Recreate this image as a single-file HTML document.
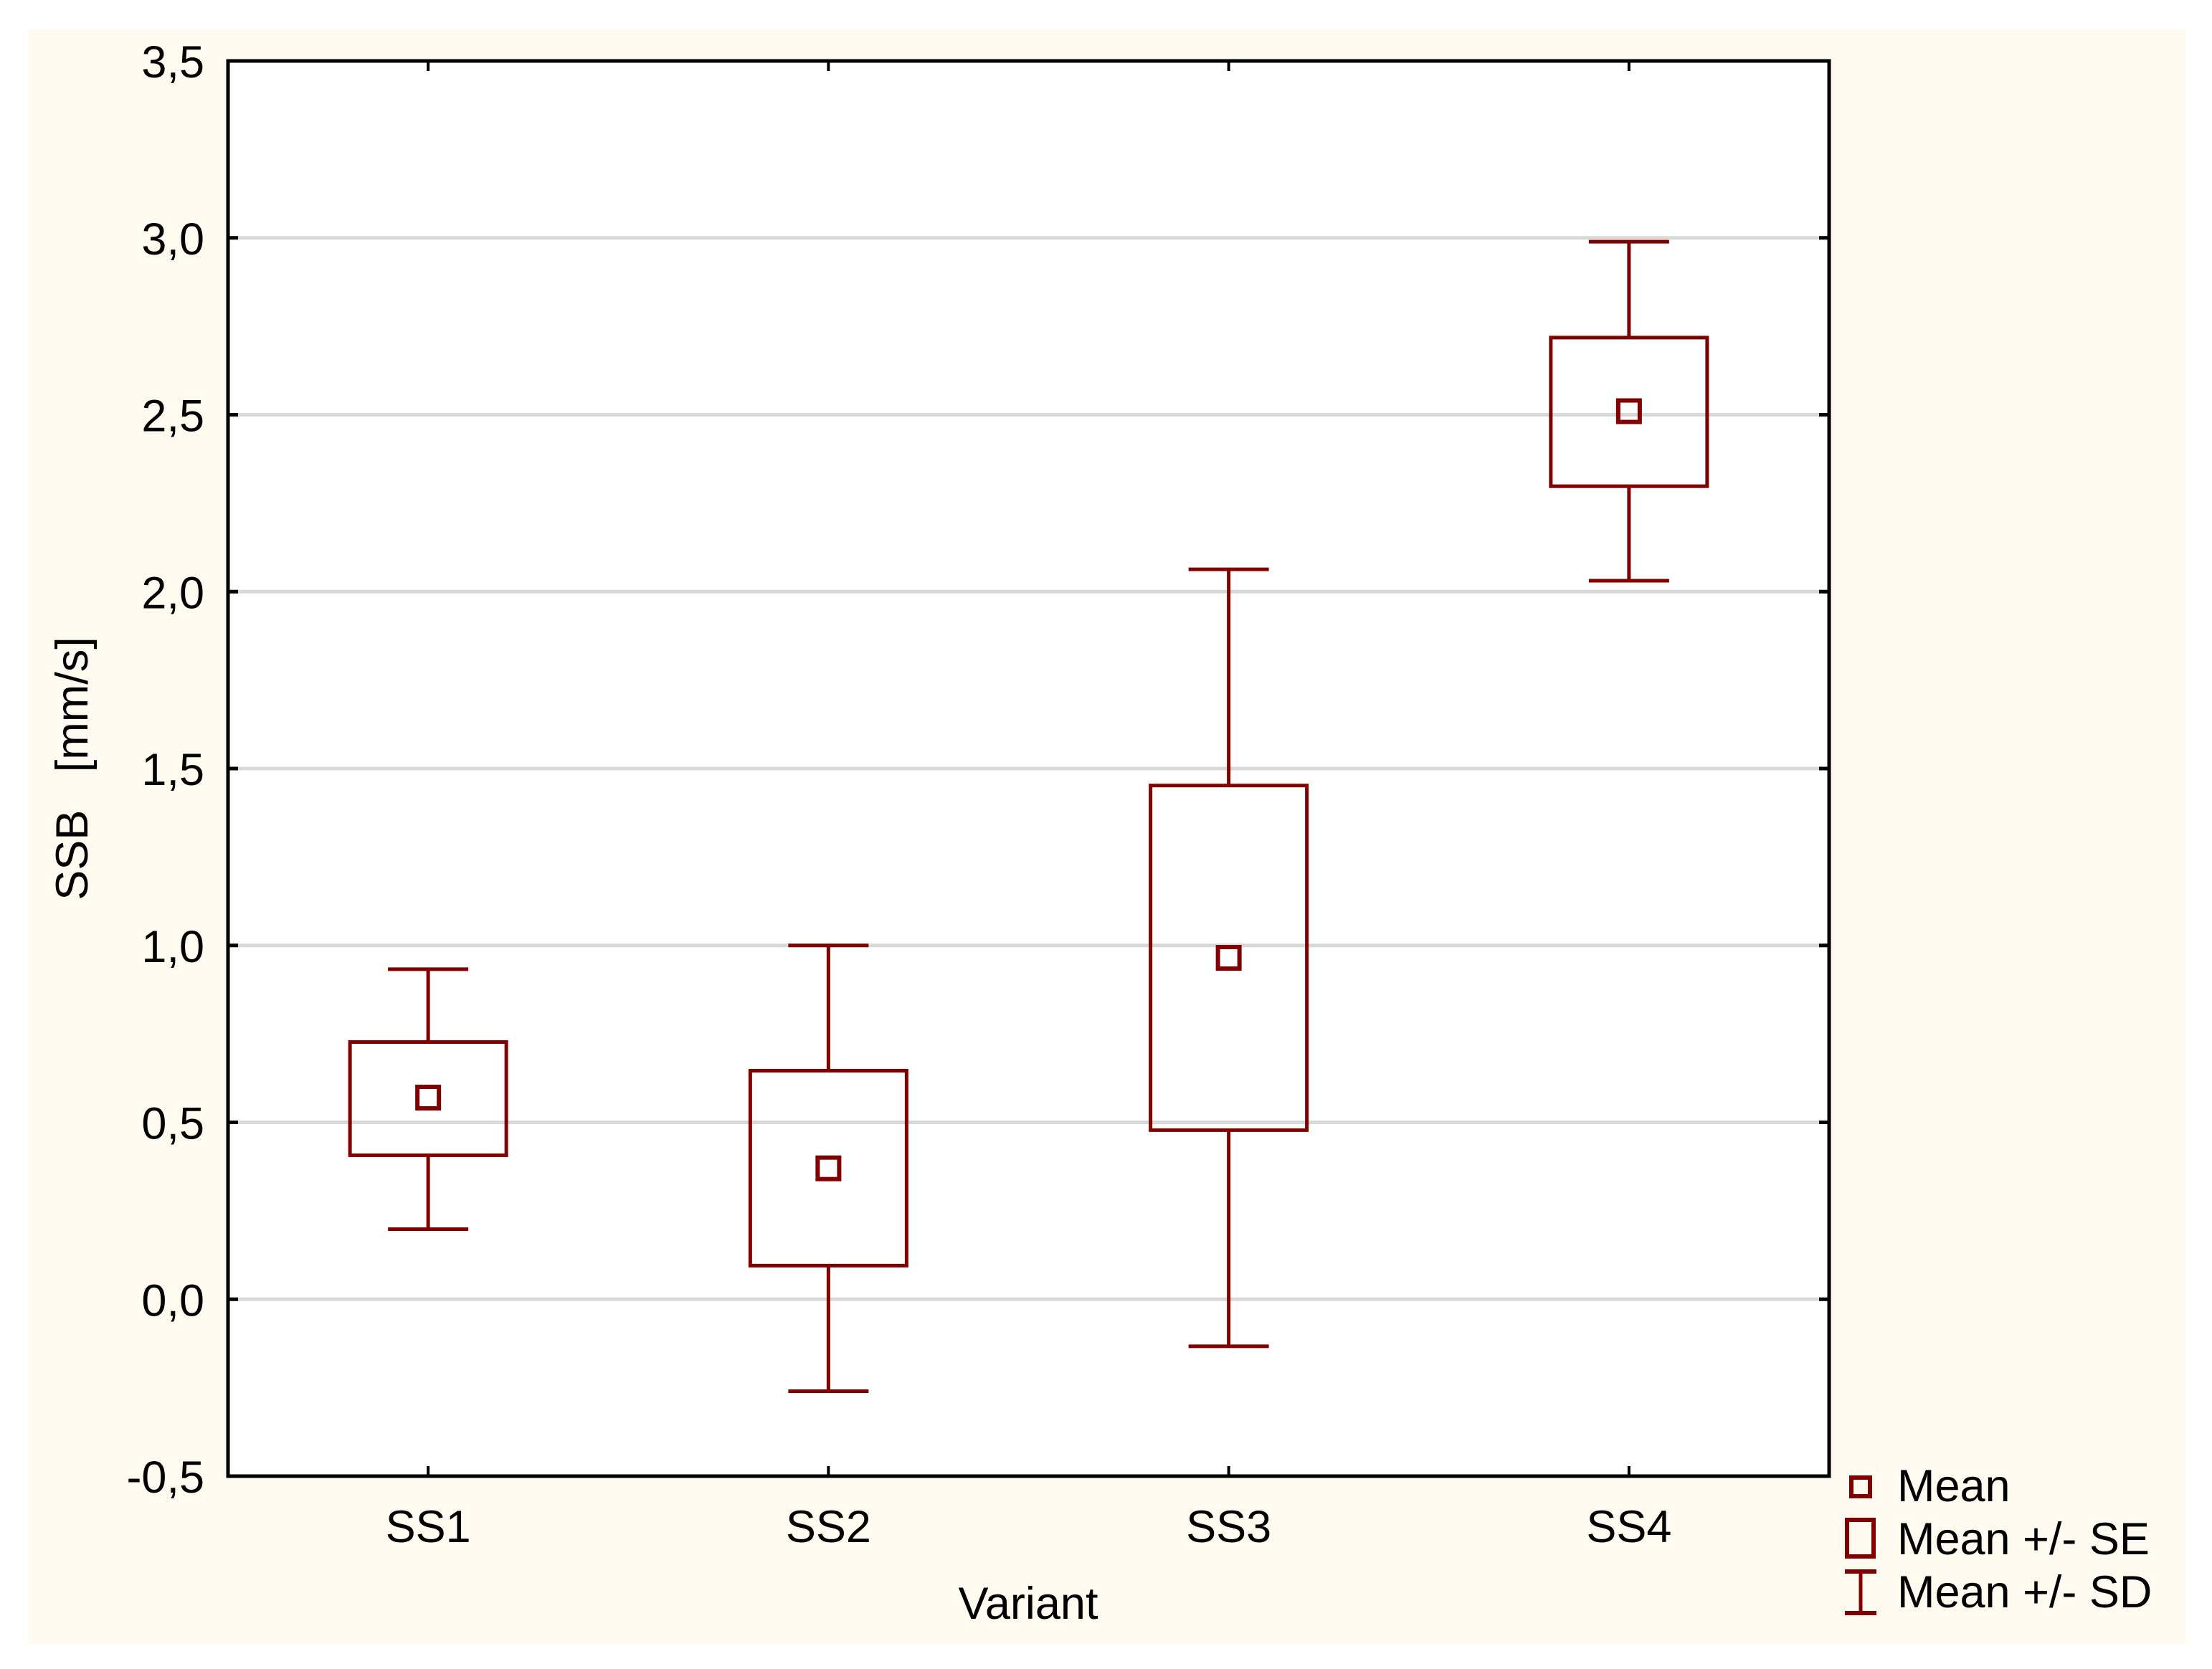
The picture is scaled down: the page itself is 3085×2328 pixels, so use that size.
<!DOCTYPE html>
<html><head><meta charset="utf-8"><style>
html,body{margin:0;padding:0;background:#fff;}
svg{display:block;font-family:"Liberation Sans",Arial,sans-serif;}
</style></head><body>
<svg id="chart" width="3085" height="2328" viewBox="0 0 3085 2328">
<rect x="39" y="41" width="3009" height="2252" fill="#fefaf0"/>
<rect x="318" y="85" width="2233" height="1974" fill="#ffffff"/>
<g id="grid"></g>
<g id="marks"></g>
<rect x="318" y="85" width="2233" height="1974" fill="none" stroke="#000" stroke-width="5"/>
<g id="axes"></g>
<text x="-1072" y="122" transform="rotate(-90)" font-size="63" text-anchor="middle">SSB&#160;&#160;&#160;[mm/s]</text>
<text x="1434" y="2258" font-size="63" text-anchor="middle">Variant</text>
<g>
<g>
<rect x="2582" y="2061" width="26" height="26" fill="none" stroke="#800000" stroke-width="6"/>
<text x="2646" y="2094" font-size="63">Mean</text></g>
<g>
<rect x="2576" y="2120" width="37" height="51" fill="none" stroke="#800000" stroke-width="6"/>
<text x="2646" y="2168" font-size="63">Mean +/- SE</text></g>
<g>
<line x1="2573" y1="2192" x2="2617" y2="2192" stroke="#800000" stroke-width="6"/>
<line x1="2573" y1="2250" x2="2617" y2="2250" stroke="#800000" stroke-width="6"/>
<line x1="2595" y1="2192" x2="2595" y2="2250" stroke="#800000" stroke-width="5"/>
<text x="2646" y="2242" font-size="63">Mean +/- SD</text></g>
</g>
</svg>
<script>
const categories = ["SS1","SS2","SS3","SS4"];
const means = [0.57, 0.37, 0.965, 2.51];
const seLow = [0.407, 0.095, 0.478, 2.298];
const seHigh = [0.727, 0.646, 1.452, 2.718];
const sdLow = [0.198, -0.26, -0.133, 2.031];
const sdHigh = [0.933, 1.0, 2.063, 2.989];
const yTicks = [-0.5, 0, 0.5, 1, 1.5, 2, 2.5, 3, 3.5];
const yTickLabels = ["-0,5","0,0","0,5","1,0","1,5","2,0","2,5","3,0","3,5"];

const NS = "http://www.w3.org/2000/svg";
const L = 318, R = 2551, T = 85, B = 2059;
function yScale(v){ return B - (v - (-0.5)) / 4 * (B - T); }
function xScale(i){ return L + (i + 0.5) * (R - L) / categories.length; }
function mk(tag, attrs, parent){
  const e = document.createElementNS(NS, tag);
  for (const k in attrs) e.setAttribute(k, attrs[k]);
  parent.appendChild(e); return e;
}
const grid = document.getElementById('grid');
const axes = document.getElementById('axes');
const marks = document.getElementById('marks');
yTicks.forEach((v, i) => {
  const y = yScale(v);
  if (v > -0.5 && v < 3.5) {
    const g = mk('line', {x1: L, x2: R, y1: y, y2: y, stroke: '#d8d8d8', 'stroke-width': 5}, grid);
    
    
  }
  const t1 = mk('line', {x1: L, x2: L + 14, y1: y, y2: y, stroke: '#000', 'stroke-width': 5}, axes);
  
  
  const t2 = mk('line', {x1: R - 14, x2: R, y1: y, y2: y, stroke: '#000', 'stroke-width': 5}, axes);
  
  
  const lb = mk('text', {x: 285, y: y + 23, 'font-size': 63, 'text-anchor': 'end'}, axes);
  lb.textContent = yTickLabels[i];
  
  
});
categories.forEach((c, i) => {
  const x = xScale(i);
  const tb = mk('line', {x1: x, x2: x, y1: B - 14, y2: B, stroke: '#000', 'stroke-width': 4}, axes);
  
  
  const tt = mk('line', {x1: x, x2: x, y1: T, y2: T + 14, stroke: '#000', 'stroke-width': 4}, axes);
  
  
  const lb = mk('text', {x: x, y: 2151, 'font-size': 63, 'text-anchor': 'middle'}, axes);
  lb.textContent = c;
  
  

  const g = mk('g', {}, marks);
  
  
  const col = '#800000';
  const w1 = mk('line', {x1: x, x2: x, y1: yScale(sdHigh[i]), y2: yScale(seHigh[i]), stroke: col, 'stroke-width': 5}, g);
  
  
  const w2 = mk('line', {x1: x, x2: x, y1: yScale(seLow[i]), y2: yScale(sdLow[i]), stroke: col, 'stroke-width': 5}, g);
  
  
  const c1 = mk('line', {x1: x - 56, x2: x + 56, y1: yScale(sdHigh[i]), y2: yScale(sdHigh[i]), stroke: col, 'stroke-width': 5}, g);
  
  
  const c2 = mk('line', {x1: x - 56, x2: x + 56, y1: yScale(sdLow[i]), y2: yScale(sdLow[i]), stroke: col, 'stroke-width': 5}, g);
  
  
  const bx = mk('rect', {x: x - 109, y: yScale(seHigh[i]), width: 218, height: yScale(seLow[i]) - yScale(seHigh[i]), fill: 'none', stroke: col, 'stroke-width': 5}, g);
  
  
  const m = mk('rect', {x: x - 15, y: yScale(means[i]) - 15, width: 30, height: 30, fill: 'none', stroke: col, 'stroke-width': 6}, g);
  
  
});
</script>
</body></html>
